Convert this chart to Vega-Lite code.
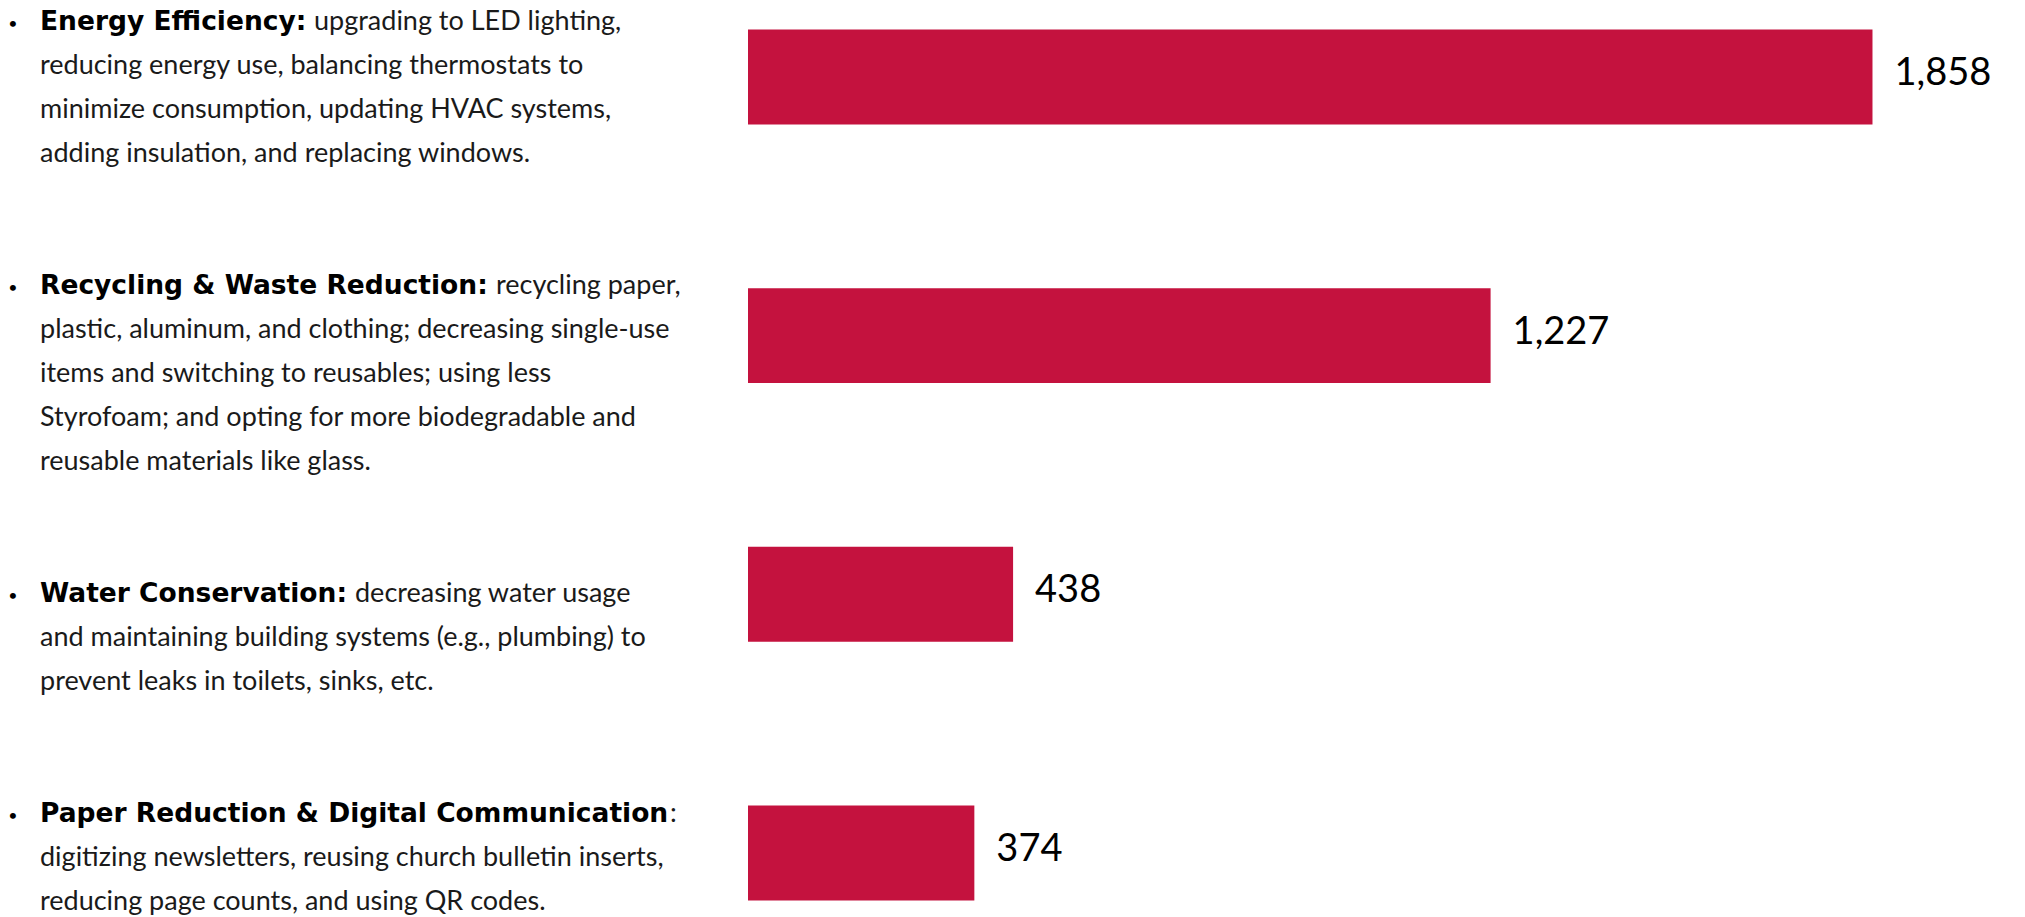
{
  "$schema": "https://vega.github.io/schema/vega-lite/v6.json",
  "padding": 0,
  "background": "white",
  "config": {"view": {"stroke": null}, "concat": {"spacing": 0}},
  "spacing": 0,
  "hconcat": [
    {
      "width": 748,
      "height": 917,
      "data": {"values": [
        {"line": 0, "bold": "Energy Efficiency:", "text": "upgrading to LED lighting,"},
        {"line": 1, "bold": "", "text": "reducing energy use, balancing thermostats to"},
        {"line": 2, "bold": "", "text": "minimize consumption, updating HVAC systems,"},
        {"line": 3, "bold": "", "text": "adding insulation, and replacing windows."},
        {"line": 6, "bold": "Recycling & Waste Reduction:", "text": "recycling paper,"},
        {"line": 7, "bold": "", "text": "plastic, aluminum, and clothing; decreasing single-use"},
        {"line": 8, "bold": "", "text": "items and switching to reusables; using less"},
        {"line": 9, "bold": "", "text": "Styrofoam; and opting for more biodegradable and"},
        {"line": 10, "bold": "", "text": "reusable materials like glass."},
        {"line": 13, "bold": "Water Conservation:", "text": "decreasing water usage"},
        {"line": 14, "bold": "", "text": "and maintaining building systems (e.g., plumbing) to"},
        {"line": 15, "bold": "", "text": "prevent leaks in toilets, sinks, etc."},
        {"line": 18, "bold": "Paper Reduction & Digital Communication", "text": ":"},
        {"line": 19, "bold": "", "text": "digitizing newsletters, reusing church bulletin inserts,"},
        {"line": 20, "bold": "", "text": "reducing page counts, and using QR codes."}
      ]},
      "encoding": {
        "y": {"field": "line", "type": "quantitative", "scale": {"domain": [-0.5, 20.34], "reverse": true, "nice": false, "zero": false}, "axis": null},
        "x": {"datum": 0, "type": "quantitative", "scale": {"domain": [0, 1], "nice": false}, "axis": null}
      },
      "layer": [
        {"transform": [{"filter": "datum.bold != ''"}], "mark": {"type": "text", "text": "•", "align": "center", "baseline": "middle", "dx": 13, "dy": 2, "fontSize": 16, "font": "Lato", "color": "#000000"}},
        {"transform": [{"filter": "datum.bold != ''"}], "mark": {"type": "text", "align": "left", "baseline": "middle", "dx": 40, "fontSize": 26.5, "fontWeight": "bold", "font": "DejaVu Sans", "color": "#000000"}, "encoding": {"text": {"field": "bold"}}},
        {"transform": [{"filter": "datum.bold == ''"}], "mark": {"type": "text", "align": "left", "baseline": "middle", "dx": 40, "fontSize": 27, "font": "Lato", "color": "#1a1a1a"}, "encoding": {"text": {"field": "text"}}},
        {"transform": [{"filter": "datum.line == 0"}], "mark": {"type": "text", "align": "left", "baseline": "middle", "dx": 314, "fontSize": 27, "font": "Lato", "color": "#1a1a1a"}, "encoding": {"text": {"field": "text"}}},
        {"transform": [{"filter": "datum.line == 6"}], "mark": {"type": "text", "align": "left", "baseline": "middle", "dx": 496, "fontSize": 27, "font": "Lato", "color": "#1a1a1a"}, "encoding": {"text": {"field": "text"}}},
        {"transform": [{"filter": "datum.line == 13"}], "mark": {"type": "text", "align": "left", "baseline": "middle", "dx": 355, "fontSize": 27, "font": "Lato", "color": "#1a1a1a"}, "encoding": {"text": {"field": "text"}}},
        {"transform": [{"filter": "datum.line == 18"}], "mark": {"type": "text", "align": "left", "baseline": "middle", "dx": 670, "fontSize": 27, "font": "Lato", "color": "#1a1a1a"}, "encoding": {"text": {"field": "text"}}}
      ]
    },
    {
      "width": 1277,
      "height": 917,
      "data": {"values": [
        {"category": "Energy Efficiency", "value": 1858},
        {"category": "Recycling & Waste Reduction", "value": 1227},
        {"category": "Water Conservation", "value": 438},
        {"category": "Paper Reduction & Digital Communication", "value": 374}
      ]},
      "encoding": {
        "y": {"field": "category", "type": "nominal", "sort": null, "scale": {"paddingInner": 0.633, "paddingOuter": 0.089, "align": 0.64}, "axis": null},
        "x": {"field": "value", "type": "quantitative", "scale": {"domain": [0, 2110], "nice": false}, "axis": null}
      },
      "layer": [
        {"mark": {"type": "bar", "color": "#C4123E"}},
        {"mark": {"type": "text", "align": "left", "baseline": "middle", "dx": 22, "dy": -3, "fontSize": 38, "font": "Lato", "color": "#000000"}, "encoding": {"text": {"field": "value", "type": "quantitative", "format": ","}}}
      ]
    }
  ]
}
